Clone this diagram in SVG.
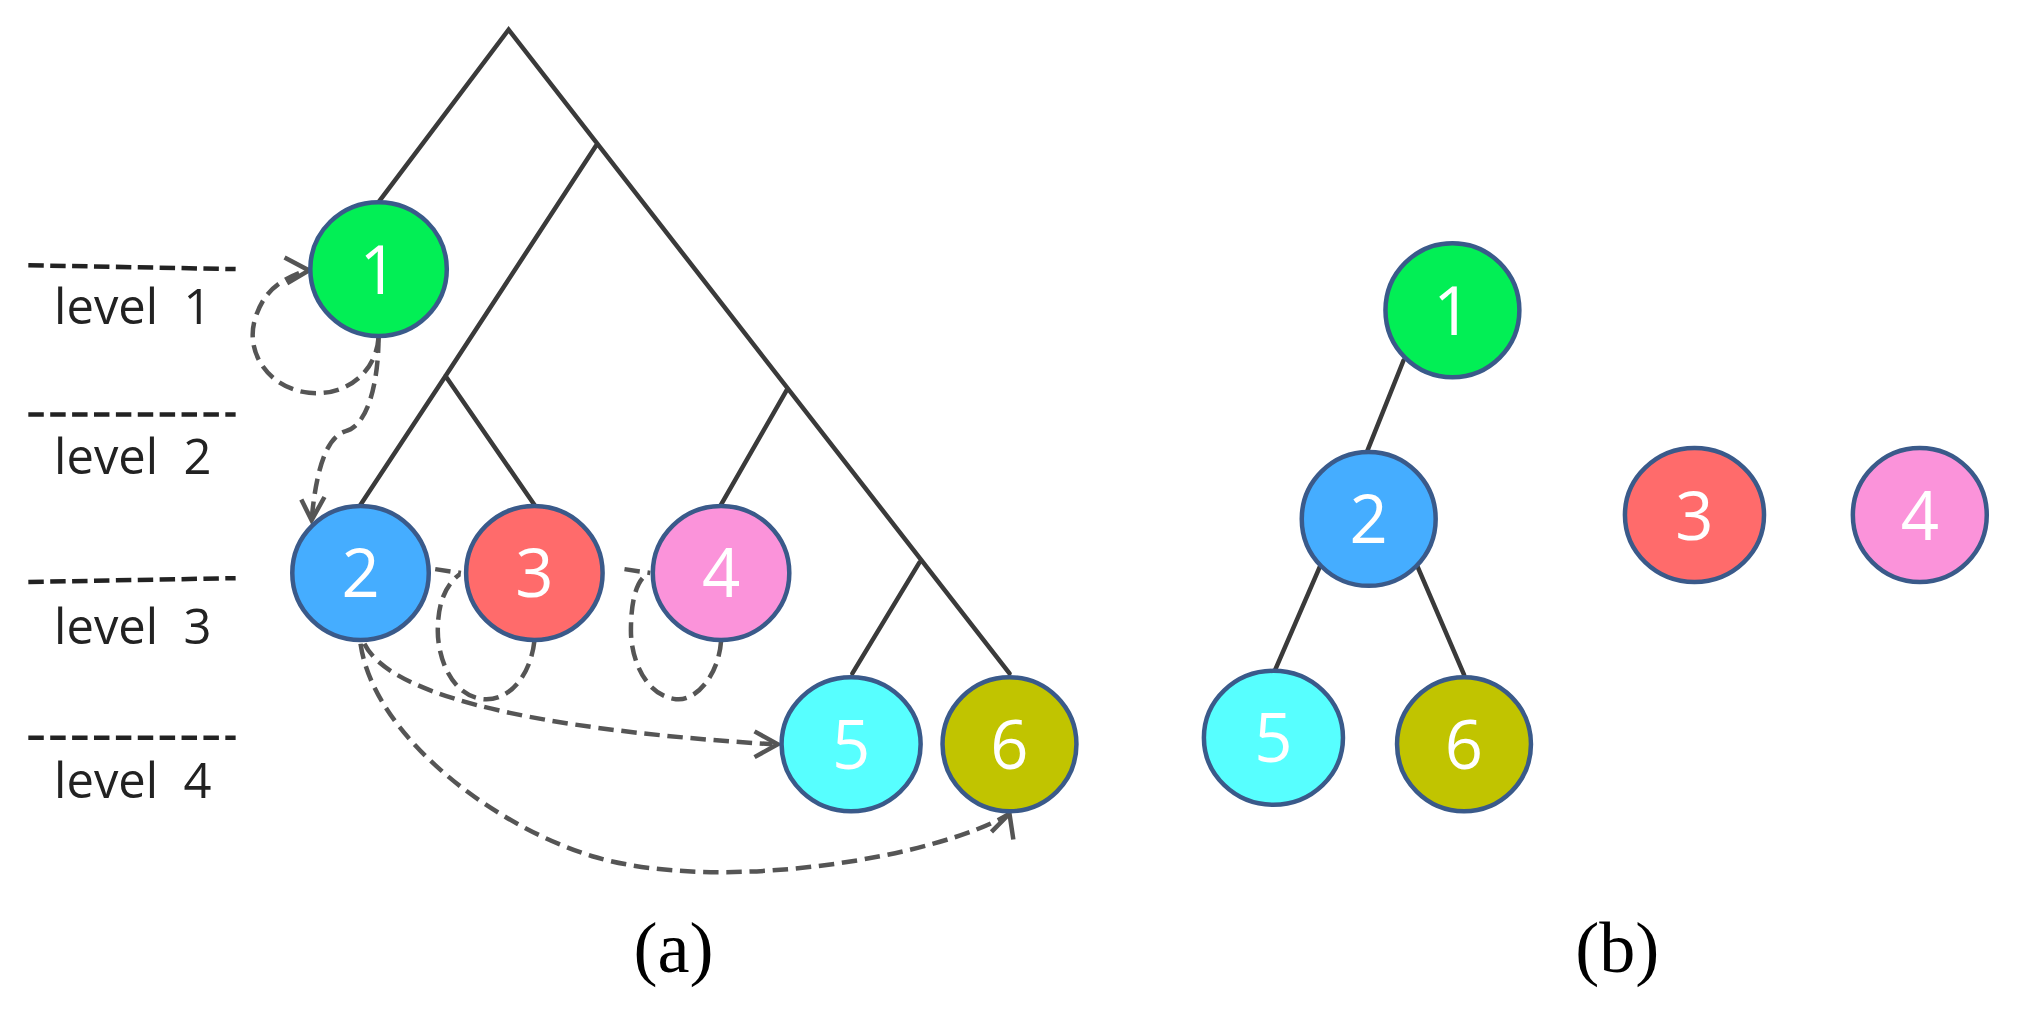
<svg xmlns="http://www.w3.org/2000/svg" width="2019" height="1017" viewBox="0 0 2019 1017">
<style>
.t{stroke:#3a3a3a;stroke-width:3.5;fill:none;stroke-linecap:round}
.n{stroke:#3a5a8a;stroke-width:3.5}
.d{stroke:#555;stroke-width:3.5;fill:none;stroke-dasharray:12 6}
.a{stroke:#555;stroke-width:3.5;fill:none}
.lv{stroke:#222;stroke-width:3.5;stroke-dasharray:12 5}
.num{font-family:"Open Sans","DejaVu Sans",sans-serif;font-size:52px;fill:#fff;text-anchor:middle}
.lbl{font-family:"Open Sans","DejaVu Sans",sans-serif;font-size:38px;fill:#222}
.cap{font-family:"Liberation Serif",serif;font-size:56px;fill:#000;text-anchor:middle}
</style>
<rect width="2019" height="1017" fill="#fff"/>
<g transform="scale(1.2876)">
<g id="tree">
<path class="t" d="M294,157 L395,23 L784,523 M463,113 L346,292 L280,392 M346,292 L415,392 M611,303 L560,392 M714,437 L662,523"/>
<path class="t" d="M1090,280 L1062,350 M1026,438 L990,521 M1100,438 L1137,524"/>
</g>
<g id="levels">
<line class="lv" x1="22" y1="206" x2="183" y2="209"/>
<line class="lv" x1="22" y1="322" x2="183" y2="322"/>
<line class="lv" x1="22" y1="452" x2="183" y2="449"/>
<line class="lv" x1="22" y1="573" x2="183" y2="573"/>
<text class="lbl" x="42" y="252" xml:space="preserve">level  1</text>
<text class="lbl" x="42" y="368" xml:space="preserve">level  2</text>
<text class="lbl" x="42" y="500" xml:space="preserve">level  3</text>
<text class="lbl" x="42" y="620" xml:space="preserve">level  4</text>
</g>
<g id="connectors">
<path class="d" d="M294,262 C292,290 268,308 240,305 C210,302 190,275 198,248 C204,228 215,218 238,210"/>
<path class="a" d="M221,200 L240,210 L223,220"/>
<path class="d" d="M294,262 C294,290 288,330 268,335 C252,340 245,370 242,404"/>
<path class="a" d="M234,388 L242,404 L252,386"/>
<path class="d" d="M338,442 L358,445"/>
<path class="d" d="M415,498 C412,525 395,545 375,543 C350,540 340,510 340,490 C340,470 345,455 357,446"/>
<path class="d" d="M485,442 L505,445"/>
<path class="d" d="M560,498 C558,525 540,545 525,543 C500,540 490,510 490,490 C490,470 493,455 500,448"/>
<path class="d" d="M283,500 C300,535 390,565 600,578"/>
<path class="a" d="M586,568 L604,578 L586,588"/>
<path class="d" d="M280,500 C290,570 380,640 460,665 C560,695 730,665 784,632"/>
<path class="a" d="M770,646 L784,632 L787,652"/>
</g>
<g id="a1"><ellipse class="n" cx="294" cy="209" rx="53" ry="52" fill="#02ef55"/><text class="num" x="294" y="228">1</text></g>
<g id="a2"><ellipse class="n" cx="280" cy="445" rx="53" ry="52" fill="#45adff"/><text class="num" x="280" y="464">2</text></g>
<g id="a3"><ellipse class="n" cx="415" cy="445" rx="53" ry="52" fill="#ff6b6b"/><text class="num" x="415" y="464">3</text></g>
<g id="a4"><ellipse class="n" cx="560" cy="445" rx="53" ry="52" fill="#fb93da"/><text class="num" x="560" y="464">4</text></g>
<g id="a5"><ellipse class="n" cx="661" cy="578" rx="54" ry="52" fill="#57ffff"/><text class="num" x="661" y="597">5</text></g>
<g id="a6"><ellipse class="n" cx="784" cy="578" rx="52" ry="52" fill="#c1c400"/><text class="num" x="784" y="597">6</text></g>
<g id="b1"><ellipse class="n" cx="1128" cy="241" rx="52" ry="52" fill="#02ef55"/><text class="num" x="1128" y="260">1</text></g>
<g id="b2"><ellipse class="n" cx="1063" cy="403" rx="52" ry="52" fill="#45adff"/><text class="num" x="1063" y="422">2</text></g>
<g id="b3"><ellipse class="n" cx="1316" cy="400" rx="54" ry="52" fill="#ff6b6b"/><text class="num" x="1316" y="419">3</text></g>
<g id="b4"><ellipse class="n" cx="1491" cy="400" rx="52" ry="52" fill="#fb93da"/><text class="num" x="1491" y="419">4</text></g>
<g id="b5"><ellipse class="n" cx="989" cy="573" rx="54" ry="52" fill="#57ffff"/><text class="num" x="989" y="592">5</text></g>
<g id="b6"><ellipse class="n" cx="1137" cy="578" rx="52" ry="52" fill="#c1c400"/><text class="num" x="1137" y="597">6</text></g>
<text class="cap" x="523" y="755">(a)</text>
<text class="cap" x="1256" y="755">(b)</text>
</g>
</svg>
